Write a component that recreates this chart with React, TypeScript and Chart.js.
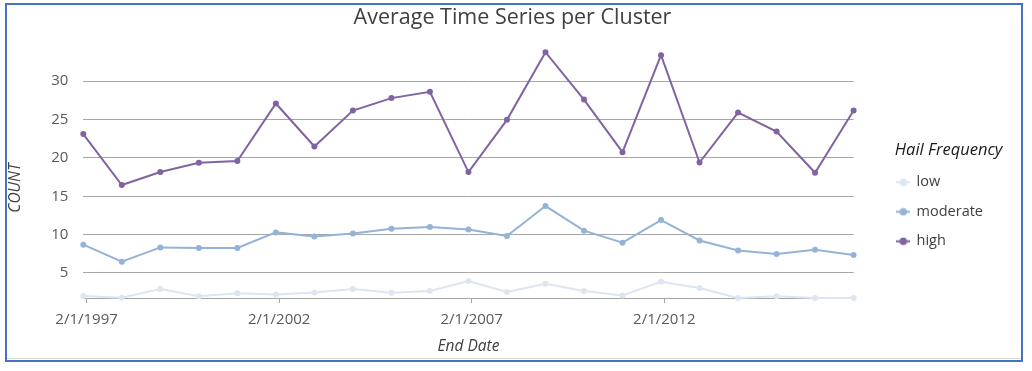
import React, { useEffect, useRef } from 'react';
import { Chart, registerables } from 'chart.js';

Chart.register(...registerables);

// ---- data ----
const YEARS = [1997, 1998, 1999, 2000, 2001, 2002, 2003, 2004, 2005, 2006, 2007, 2008, 2009, 2010, 2011, 2012, 2013, 2014, 2015, 2016, 2017];
const LOW = [2.0, 1.78, 2.92, 1.96, 2.35, 2.21, 2.47, 2.92, 2.43, 2.66, 3.96, 2.53, 3.61, 2.66, 2.08, 3.87, 3.05, 1.74, 1.96, 1.74, 1.74];
const MODERATE = [8.69, 6.47, 8.33, 8.25, 8.25, 10.29, 9.77, 10.16, 10.77, 10.99, 10.68, 9.82, 13.72, 10.51, 8.95, 11.9, 9.24, 7.94, 7.47, 8.03, 7.33];
const HIGH = [23.1, 16.46, 18.15, 19.36, 19.58, 27.09, 21.49, 26.17, 27.79, 28.61, 18.15, 24.96, 33.78, 27.6, 20.75, 33.39, 19.4, 25.91, 23.44, 18.06, 26.17];
const SERIES_NAMES = ['low', 'moderate', 'high'];
const SERIES_COLORS = ['#DCE6F2', '#95B3D7', '#8064A2'];
const X_TICK_LABELS = ['2/1/1997', '2/1/2002', '2/1/2007', '2/1/2012'];
const Y_TICKS = [5, 10, 15, 20, 25, 30];
const Y_MIN = 1.74;
const Y_MAX = 33.8;

const FONT = "'Open Sans', 'Noto Sans', sans-serif";

function dateToYear(s: string): number {
  const [m, d, y] = s.split('/').map(Number);
  const start = Date.UTC(y, 0, 1);
  const t = Date.UTC(y, m - 1, d);
  const end = Date.UTC(y + 1, 0, 1);
  return y + (t - start) / (end - start);
}

function makeMarker(color: string): HTMLCanvasElement {
  const c = document.createElement('canvas');
  c.width = 14;
  c.height = 9;
  const ctx = c.getContext('2d')!;
  ctx.strokeStyle = color;
  ctx.lineWidth = 2;
  ctx.beginPath();
  ctx.moveTo(0, 4.5);
  ctx.lineTo(14, 4.5);
  ctx.stroke();
  ctx.fillStyle = color;
  ctx.beginPath();
  ctx.arc(7, 4.5, 3.8, 0, Math.PI * 2);
  ctx.fill();
  return c;
}

// nudge legend box width and y-axis title span to match the reference placement
const layoutTweakPlugin = {
  id: 'layoutTweak',
  afterLayout(chart: any) {
    const lg = chart.legend;
    if (lg) {
      lg.width += 22;
      lg.right += 22;
    }
    const ys = chart.scales.y;
    if (ys) {
      ys.bottom += 26;
      ys.height += 26;
    }
  },
};

export default function App() {
  const ref = useRef<HTMLCanvasElement | null>(null);

  useEffect(() => {
    if (!ref.current) return;
    const values = [LOW, MODERATE, HIGH];
    const markers = SERIES_COLORS.map(makeMarker);
    const xTickValues = X_TICK_LABELS.map(dateToYear);

    const chart = new Chart(ref.current, {
      type: 'line',
      data: {
        datasets: SERIES_NAMES.map((name, si) => ({
          label: name,
          data: YEARS.map((yr, i) => ({ x: yr, y: values[si][i] })),
          borderColor: SERIES_COLORS[si],
          backgroundColor: SERIES_COLORS[si],
          pointBackgroundColor: SERIES_COLORS[si],
          pointBorderWidth: 0,
          pointRadius: 3,
          borderWidth: 2,
          tension: 0,
          clip: false,
        })),
      },
      plugins: [layoutTweakPlugin],
      options: {
        animation: false,
        responsive: false,
        maintainAspectRatio: false,
        layout: { padding: { left: 32, right: 39, top: 0, bottom: 0 } },
        plugins: {
          title: {
            display: true,
            text: 'Average Time Series per Cluster',
            color: '#404040',
            font: { family: FONT, size: 21.5, weight: 'normal' },
            padding: { top: 5, bottom: 21.2 },
          },
          legend: {
            position: 'right',
            align: 'center',
            title: {
              display: true,
              text: 'Hail Frequency',
              color: '#1a1a1a',
              font: { family: FONT, size: 16.5, style: 'italic', weight: 'normal' },
              padding: { top: 34.5, bottom: -1.7 },
            },
            labels: {
              usePointStyle: true,
              boxWidth: 12,
              padding: 15,
              color: '#404040',
              font: { family: FONT, size: 14.5 },
              generateLabels: (c: any) => {
                const items = Chart.defaults.plugins.legend.labels.generateLabels(c);
                return items.map((it: any, i: number) => ({ ...it, pointStyle: markers[i], lineWidth: 0 }));
              },
            },
          },
          tooltip: { enabled: false },
        },
        scales: {
          x: {
            type: 'linear',
            min: YEARS[0],
            max: YEARS[YEARS.length - 1],
            afterBuildTicks: (s: any) => {
              s.ticks = xTickValues.map((v) => ({ value: v }));
            },
            afterFit: (s: any) => {
              s.height = 73;
            },
            ticks: {
              maxRotation: 0,
              autoSkip: false,
              padding: 8,
              color: '#595959',
              font: { family: FONT, size: 15 },
              callback: (_v: any, i: number) => X_TICK_LABELS[i],
            },
            grid: { drawOnChartArea: false, drawTicks: true, tickLength: 5, color: '#A6A6A6' },
            border: { display: true, color: '#A6A6A6', width: 1 },
            title: {
              display: true,
              text: 'End Date',
              color: '#404040',
              font: { family: FONT, size: 15.5, style: 'italic' },
              padding: { top: 4, bottom: 15 },
            },
          },
          y: {
            type: 'linear',
            min: Y_MIN,
            max: Y_MAX,
            afterBuildTicks: (s: any) => {
              s.ticks = Y_TICKS.map((v) => ({ value: v }));
            },
            afterFit: (s: any) => {
              s.width = 51.3;
            },
            ticks: {
              padding: 15,
              color: '#595959',
              font: { family: FONT, size: 15 },
            },
            grid: { color: '#A6A6A6', drawTicks: false, lineWidth: 1 },
            border: { display: false },
            title: {
              display: true,
              text: 'COUNT',
              color: '#404040',
              font: { family: FONT, size: 15.5, style: 'italic' },
              padding: { top: -26, bottom: 0 },
            },
          },
          pad: {
            type: 'linear',
            position: 'right',
            display: true,
            grid: { display: false },
            ticks: { display: false },
            border: { display: false },
            afterFit: (s: any) => {
              s.width = 28.7;
            },
          },
        },
      } as any,
    });
    return () => chart.destroy();
  }, []);

  return (
    <div style={{ position: 'fixed', left: 0, top: 0, width: 1032, height: 371, background: '#fff' }}>
      <canvas ref={ref} width={1032} height={371} style={{ position: 'absolute', left: 0, top: 0, width: 1032, height: 371 }} />
      <div style={{ position: 'absolute', left: 7, top: 358, width: 1014, height: 1, background: '#D9D9D9', pointerEvents: 'none' }} />
      <div style={{ position: 'absolute', left: 5, top: 3, width: 1018, height: 359, border: '2px solid #4472C4', boxSizing: 'border-box', pointerEvents: 'none' }} />
    </div>
  );
}
